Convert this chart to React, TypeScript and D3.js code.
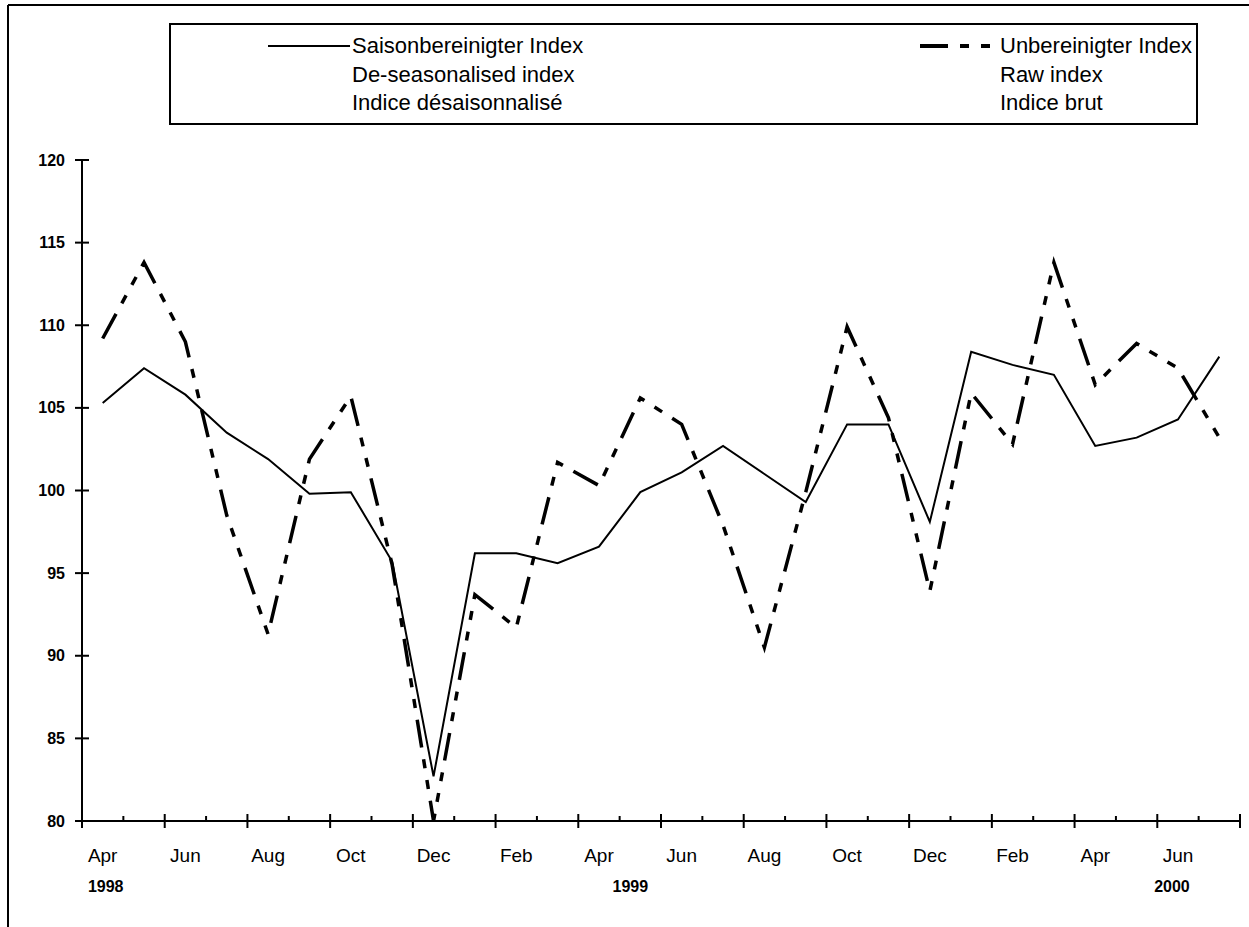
import React from "react";
import * as d3 from "d3";

const categories: string[] = [
  "Apr 1998", "May 1998", "Jun 1998", "Jul 1998", "Aug 1998", "Sep 1998", "Oct 1998", "Nov 1998", "Dec 1998",
  "Jan 1999", "Feb 1999", "Mar 1999", "Apr 1999", "May 1999", "Jun 1999", "Jul 1999", "Aug 1999", "Sep 1999",
  "Oct 1999", "Nov 1999", "Dec 1999", "Jan 2000", "Feb 2000", "Mar 2000", "Apr 2000", "May 2000", "Jun 2000",
  "Jul 2000",
];

const deseasonalised: number[] = [
  105.3, 107.4, 105.8, 103.5, 101.9, 99.8, 99.9, 95.7, 82.7,
  96.2, 96.2, 95.6, 96.6, 99.9, 101.1, 102.7, 101.0, 99.3,
  104.0, 104.0, 98.1, 108.4, 107.6, 107.0, 102.7, 103.2, 104.3,
  108.1,
];

const rawIndex: number[] = [
  109.2, 113.8, 109.0, 98.5, 91.3, 101.9, 105.7, 95.5, 80.0,
  93.7, 91.7, 101.7, 100.3, 105.6, 104.0, 97.9, 90.5, 99.9,
  109.9, 104.4, 93.9, 105.9, 102.8, 113.8, 106.4, 108.9, 107.4,
  103.2,
];

const yTicks: number[] = [80, 85, 90, 95, 100, 105, 110, 115, 120];
const monthLabelCategories: string[] = categories.filter((_, i) => i % 2 === 0);
const monthLabels: string[] = ["Apr", "Jun", "Aug", "Oct", "Dec", "Feb", "Apr", "Jun", "Aug", "Oct", "Dec", "Feb", "Apr", "Jun"];
const yearLabels: string[] = ["1998", "1999", "2000"];
const yearAnchors: string[] = ["Apr 1998", "May 1999", "Jun 2000"];

const legendLeft: string[] = ["Saisonbereinigter Index", "De-seasonalised index", "Indice désaisonnalisé"];
const legendRight: string[] = ["Unbereinigter Index", "Raw index", "Indice brut"];

const FONT = "'Liberation Sans', Arial, Helvetica, sans-serif";
const DASH = "28 12 9 12 9 12";

export default function App() {
  const x = d3.scaleBand<string>().domain(categories).range([82, 1240]).paddingInner(0).paddingOuter(0);
  const bw = x.bandwidth();
  const cx = (c: string) => (x(c) as number) + bw / 2;
  const y = d3.scaleLinear().domain([80, 120]).range([821, 160]);

  const line = d3
    .line<number>()
    .x((_, i) => cx(categories[i]))
    .y((d) => y(d));

  const boundaries = d3.range(categories.length + 1);
  const boundaryX = (i: number) => 82 + i * bw;
  const yearDx = [3, -10, -6];

  return (
    <svg
      width={1249}
      height={927}
      style={{ position: "absolute", left: 0, top: 0, background: "#fff" }}
      fontFamily={FONT}
    >
      <rect x={0} y={0} width={1249} height={927} fill="#fff" />
      {/* outer frame */}
      <line x1={8} y1={5} x2={1249} y2={5} stroke="#000" strokeWidth={2} />
      <line x1={8} y1={5} x2={8} y2={927} stroke="#000" strokeWidth={2} />

      {/* legend */}
      <rect x={170} y={24} width={1027} height={100} fill="#fff" stroke="#000" strokeWidth={2} />
      <line x1={268} y1={46} x2={350} y2={46} stroke="#000" strokeWidth={2} />
      <line x1={920} y1={46} x2={998} y2={46} stroke="#000" strokeWidth={4} strokeDasharray={DASH} />
      {legendLeft.map((t, i) => (
        <text key={"l" + i} x={352} y={53 + i * 28.5} fontSize={22} fill="#000">
          {t}
        </text>
      ))}
      {legendRight.map((t, i) => (
        <text key={"r" + i} x={1000} y={53 + i * 28.5} fontSize={22} fill="#000">
          {t}
        </text>
      ))}

      {/* y axis */}
      <line x1={82} y1={y(120)} x2={82} y2={y(80)} stroke="#000" strokeWidth={2} />
      {yTicks.map((t) => (
        <g key={"yt" + t}>
          <line x1={75} y1={y(t)} x2={89} y2={y(t)} stroke="#000" strokeWidth={2} />
          <text x={65} y={y(t)} dy="0.35em" textAnchor="end" fontSize={16} fontWeight="bold" fill="#000">
            {t}
          </text>
        </g>
      ))}

      {/* x axis */}
      <line x1={82} y1={y(80)} x2={boundaryX(categories.length)} y2={y(80)} stroke="#000" strokeWidth={2} />
      {boundaries.map((i) =>
        i % 2 === 0 ? (
          <line key={"xt" + i} x1={boundaryX(i)} y1={y(80) - 7} x2={boundaryX(i)} y2={y(80) + 7} stroke="#000" strokeWidth={2} />
        ) : (
          <line key={"xt" + i} x1={boundaryX(i)} y1={y(80) - 5} x2={boundaryX(i)} y2={y(80)} stroke="#000" strokeWidth={2} />
        )
      )}
      {monthLabelCategories.map((c, i) => (
        <text key={"ml" + i} x={cx(c)} y={862} textAnchor="middle" fontSize={19} fill="#000">
          {monthLabels[i]}
        </text>
      ))}
      {yearLabels.map((t, i) => (
        <text key={"yl" + i} x={cx(yearAnchors[i]) + yearDx[i]} y={892} textAnchor="middle" fontSize={16} fontWeight="bold" fill="#000">
          {t}
        </text>
      ))}

      {/* series */}
      <path d={line(rawIndex) || ""} fill="none" stroke="#000" strokeWidth={3.5} strokeDasharray={DASH} strokeLinejoin="miter" />
      <path d={line(deseasonalised) || ""} fill="none" stroke="#000" strokeWidth={2} strokeLinejoin="miter" />
    </svg>
  );
}
